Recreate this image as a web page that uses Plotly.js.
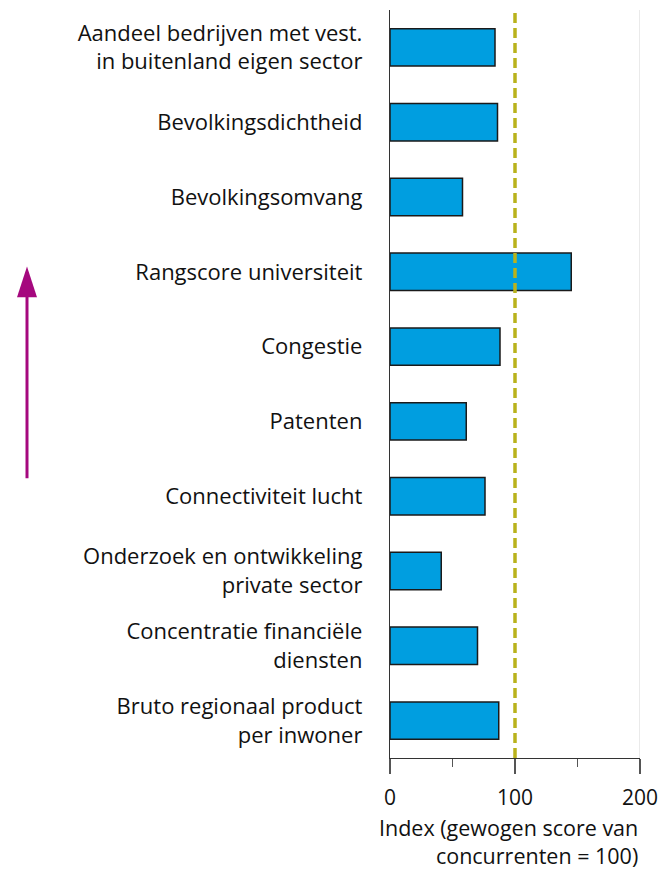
<!DOCTYPE html>
<html><head><meta charset="utf-8">
<script src="https://cdn.plot.ly/plotly-3.0.1.min.js"></script>
<style>html,body{margin:0;padding:0;background:#fff}</style>
</head><body>
<div id="chart" style="width:662px;height:871px"></div>
<script>
const categories = [
  "Bruto regionaal product<br>per inwoner",
  "Concentratie financiële<br>diensten",
  "Onderzoek en ontwikkeling<br>private sector",
  "Connectiviteit lucht",
  "Patenten",
  "Congestie",
  "Rangscore universiteit",
  "Bevolkingsomvang",
  "Bevolkingsdichtheid",
  "Aandeel bedrijven met vest.<br>in buitenland eigen sector"
];
const values = [87, 70, 41, 76, 61, 88, 145, 58, 86, 84];
const tickVals = [0, 100, 200];
const minorTickVals = [50, 150];
const referenceValue = 100;
const xTitle = ["Index (gewogen score van", "concurrenten = 100)"];

const font = "'Open Sans', Lato, sans-serif";
const trace = {
  type: 'bar', orientation: 'h',
  y: categories, x: values,
  width: 0.5,
  marker: {color: '#009ee0', line: {color: '#1a1a1a', width: 1.5}},
  hoverinfo: 'skip'
};
const layout = {
  width: 662, height: 871,
  margin: {l: 390, r: 22, t: 10, b: 113},
  paper_bgcolor: '#fff', plot_bgcolor: '#fff',
  showlegend: false,
  font: {family: font, size: 22, color: '#111'},
  xaxis: {
    range: [0, 200], tickvals: tickVals, ticktext: tickVals.map(String),
    showgrid: false, zeroline: false,
    showline: true, linecolor: '#333', linewidth: 1.2,
    ticks: 'outside', ticklen: 15, tickcolor: '#555', tickwidth: 1.2,
    ticklabelstandoff: 6,
    minor: {tickvals: minorTickVals, ticks: 'outside', ticklen: 8, tickcolor: '#555', tickwidth: 1.2, showgrid: false},
    tickfont: {family: font, size: 21, color: '#111'},
    fixedrange: true
  },
  yaxis: {
    type: 'category', categoryorder: 'array', categoryarray: categories,
    range: [-0.5, categories.length - 0.5],
    showgrid: false, zeroline: false,
    showline: true, linecolor: '#333', linewidth: 1.2,
    ticks: '', ticklabelstandoff: 22,
    tickfont: {family: font, size: 22, color: '#111'},
    fixedrange: true
  },
  shapes: [
    {type: 'line', xref: 'x', yref: 'paper', x0: 200, x1: 200, y0: 0, y1: 1,
     line: {color: '#e3e3e3', width: 1.5}, layer: 'below'},
    {type: 'line', xref: 'x', yref: 'paper', x0: referenceValue, x1: referenceValue, y0: 0, y1: 1,
     line: {color: '#b9b21c', width: 3.5, dash: '10px,5px'}},
    {type: 'line', xref: 'paper', yref: 'paper', x0: -1.452, x1: -1.452, y0: 0.374, y1: 0.62,
     line: {color: '#a5087e', width: 3}},
    {type: 'path', xref: 'paper', yref: 'paper',
     path: 'M -1.492 0.616 L -1.412 0.616 L -1.452 0.657 Z',
     fillcolor: '#a5087e', line: {color: '#a5087e', width: 0}}
  ],
  annotations: [
    {xref: 'paper', yref: 'paper', x: 1.0, y: -0.071, xanchor: 'right', yanchor: 'top',
     align: 'right', showarrow: false,
     text: xTitle.join('<br>'), font: {family: font, size: 21.5, color: '#111'}}
  ]
};
Plotly.newPlot('chart', [trace], layout, {displayModeBar: false, staticPlot: true});
</script>
</body></html>
